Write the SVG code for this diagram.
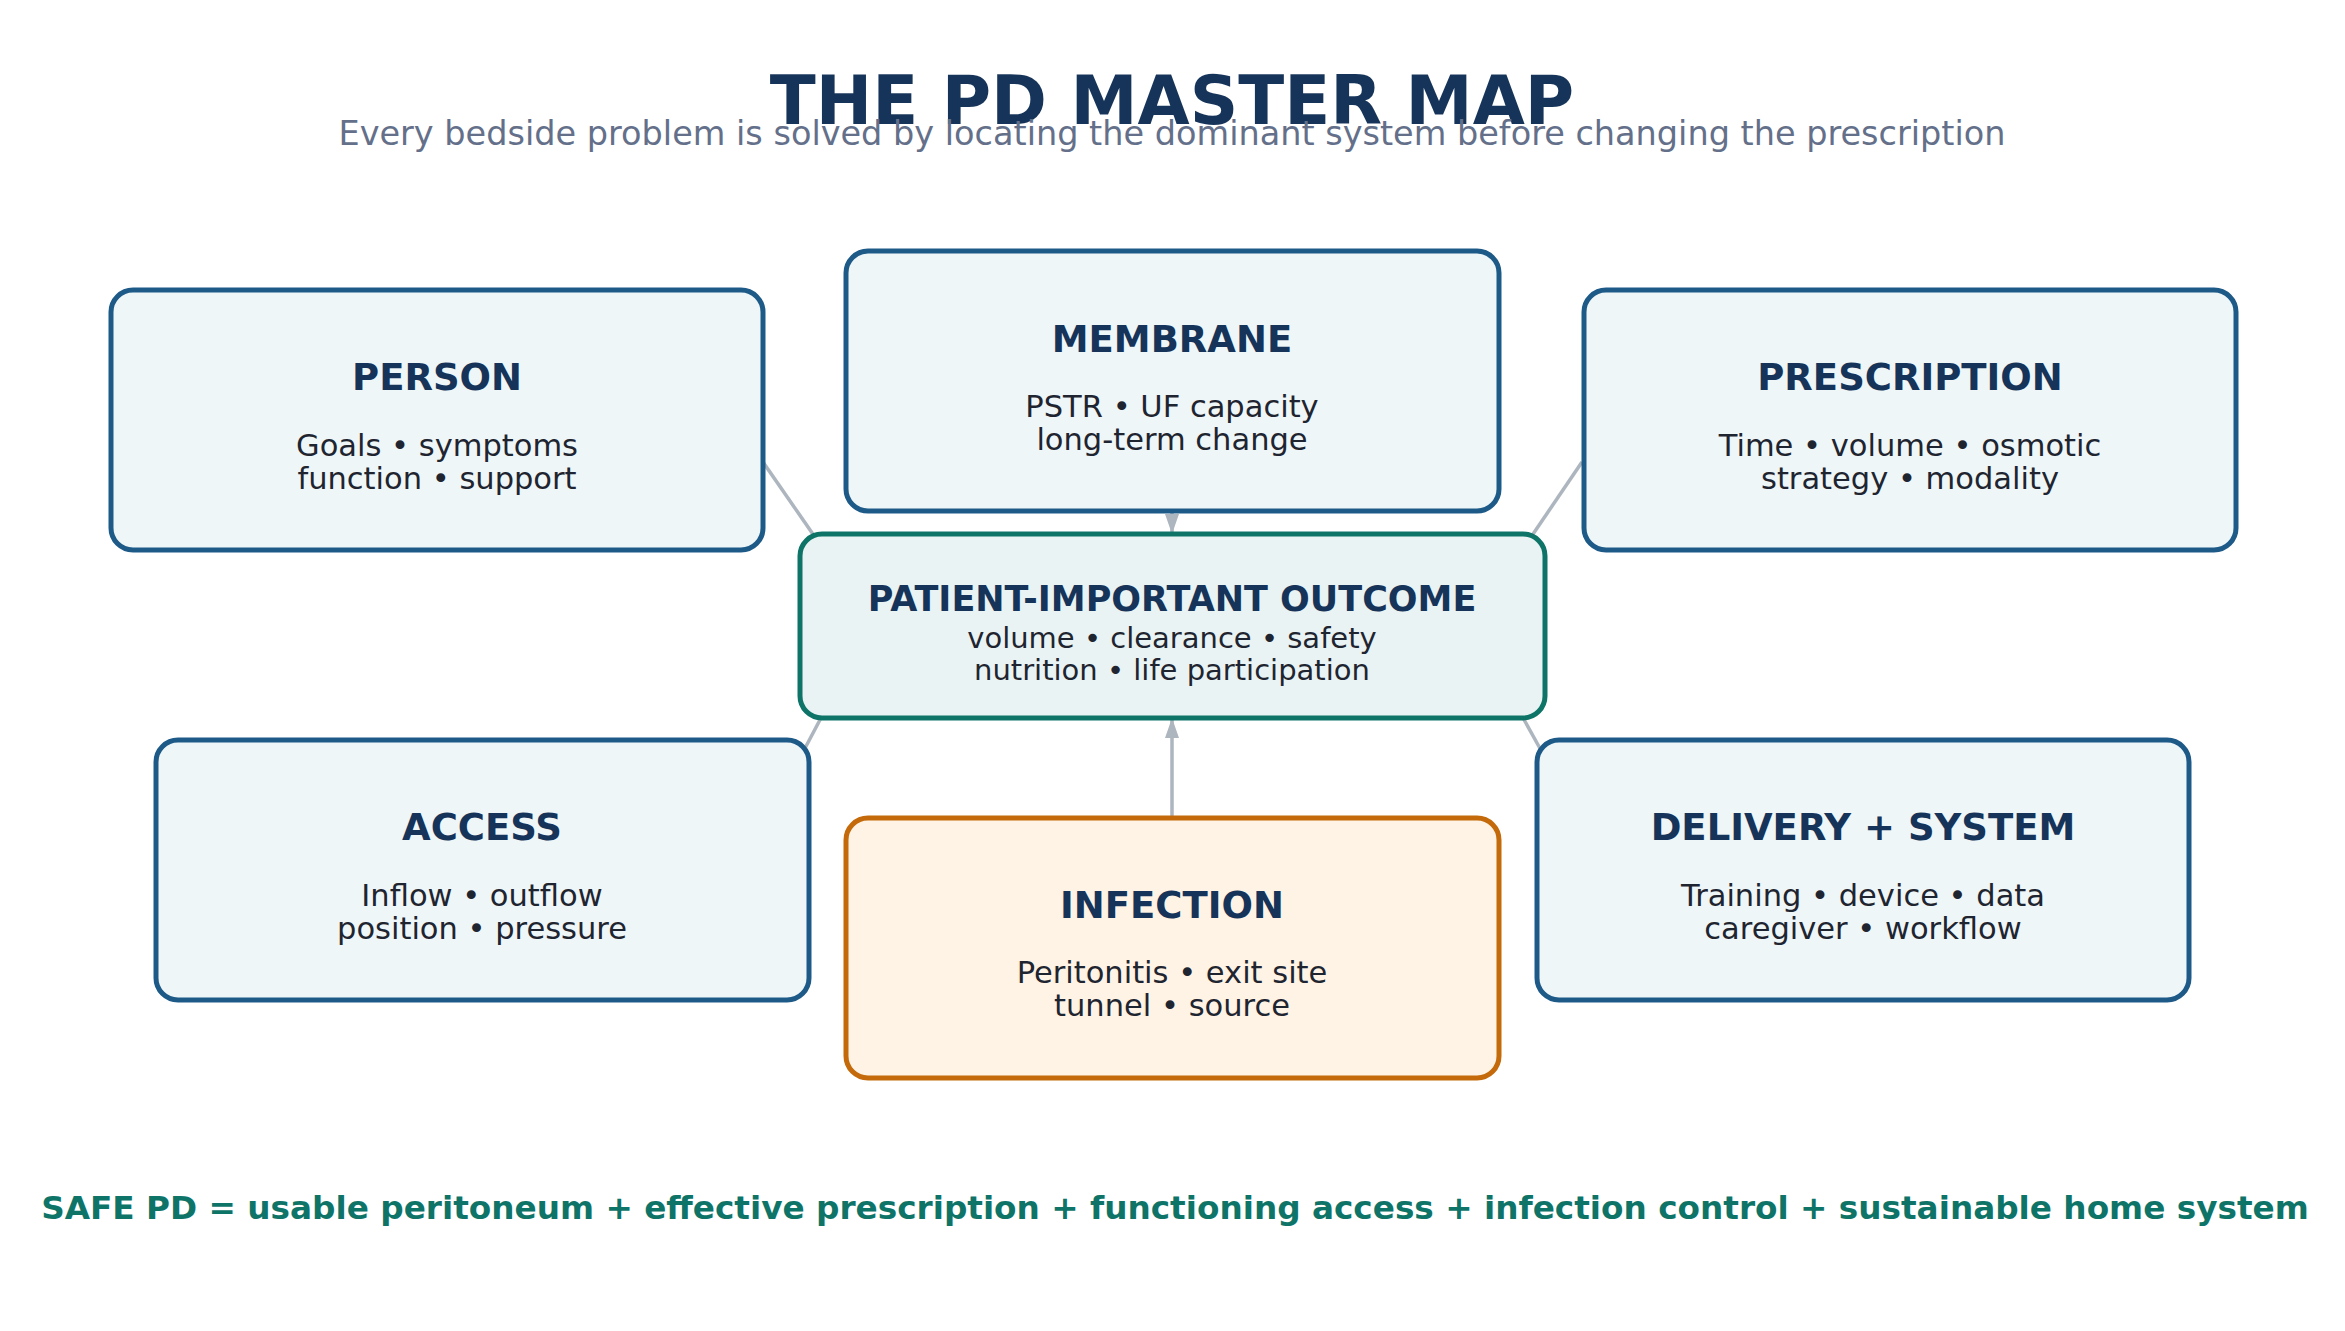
<svg xmlns="http://www.w3.org/2000/svg" width="2345" height="1331" viewBox="0 0 2345 1331">
<style>
text{font-family:"DejaVu Sans","Noto Sans",sans-serif;text-anchor:middle}
.t{font-weight:bold;fill:#163459;font-size:37px}
.b{fill:#1f2530;font-size:30.5px}
.n{fill:#eef6f8;stroke:#1e5a87;stroke-width:5}
.c{stroke:#adb5bf;stroke-width:3.5;fill:none}
</style>
<defs><marker id="ah" viewBox="0 0 10 10" refX="10" refY="5" markerWidth="20" markerHeight="20" orient="auto" markerUnits="userSpaceOnUse"><path d="M0,1.5L10,5L0,8.5z" fill="#adb5bf"/></marker></defs>
<rect width="2345" height="1331" fill="#fff"/>
<text x="1172" y="124" style="font-size:67.4px;font-weight:bold;fill:#163459">THE PD MASTER MAP</text>
<text x="1172" y="145" style="font-size:33.5px;fill:#64708a">Every bedside problem is solved by locating the dominant system before changing the prescription</text>
<g id="connectors">
<line class="c" x1="763" y1="462" x2="817" y2="540"/>
<line class="c" x1="1582" y1="462" x2="1529" y2="540"/>
<line class="c" x1="803" y1="752" x2="822" y2="716"/>
<line class="c" x1="1542" y1="752" x2="1522" y2="716"/>
<line class="c" x1="1172" y1="511" x2="1172" y2="534" marker-end="url(#ah)"/>
<line class="c" x1="1172" y1="818" x2="1172" y2="718" marker-end="url(#ah)"/>
</g>
<g id="person"><rect class="n" x="111" y="290" width="652" height="260" rx="22"/><text class="t" x="437" y="390">PERSON</text><text class="b" x="437" y="456">Goals • symptoms</text><text class="b" x="437" y="489">function • support</text></g>
<g id="membrane"><rect class="n" x="846" y="251" width="653" height="260" rx="22"/><text class="t" x="1172" y="352">MEMBRANE</text><text class="b" x="1172" y="417">PSTR • UF capacity</text><text class="b" x="1172" y="450">long-term change</text></g>
<g id="prescription"><rect class="n" x="1584" y="290" width="652" height="260" rx="22"/><text class="t" x="1910" y="390">PRESCRIPTION</text><text class="b" x="1910" y="456">Time • volume • osmotic</text><text class="b" x="1910" y="489">strategy • modality</text></g>
<g id="outcome"><rect x="800" y="534" width="745" height="184" rx="22" fill="#e9f3f3" stroke="#0e7468" stroke-width="5"/><text class="t" x="1172" y="611" style="font-size:35px">PATIENT-IMPORTANT OUTCOME</text><text class="b" x="1172" y="648" style="font-size:29px">volume • clearance • safety</text><text class="b" x="1172" y="680" style="font-size:29px">nutrition • life participation</text></g>
<g id="access"><rect class="n" x="156" y="740" width="653" height="260" rx="22"/><text class="t" x="482" y="840">ACCESS</text><text class="b" x="482" y="906">Inflow • outflow</text><text class="b" x="482" y="939">position • pressure</text></g>
<g id="infection"><rect x="846" y="818" width="653" height="260" rx="22" fill="#fef3e5" stroke="#c46a0a" stroke-width="5"/><text class="t" x="1172" y="918">INFECTION</text><text class="b" x="1172" y="983">Peritonitis • exit site</text><text class="b" x="1172" y="1016">tunnel • source</text></g>
<g id="delivery"><rect class="n" x="1537" y="740" width="652" height="260" rx="22"/><text class="t" x="1863" y="840">DELIVERY + SYSTEM</text><text class="b" x="1863" y="906">Training • device • data</text><text class="b" x="1863" y="939">caregiver • workflow</text></g>
<text x="1175" y="1219" style="font-size:32.7px;font-weight:bold;fill:#0e7468">SAFE PD = usable peritoneum + effective prescription + functioning access + infection control + sustainable home system</text>
</svg>
